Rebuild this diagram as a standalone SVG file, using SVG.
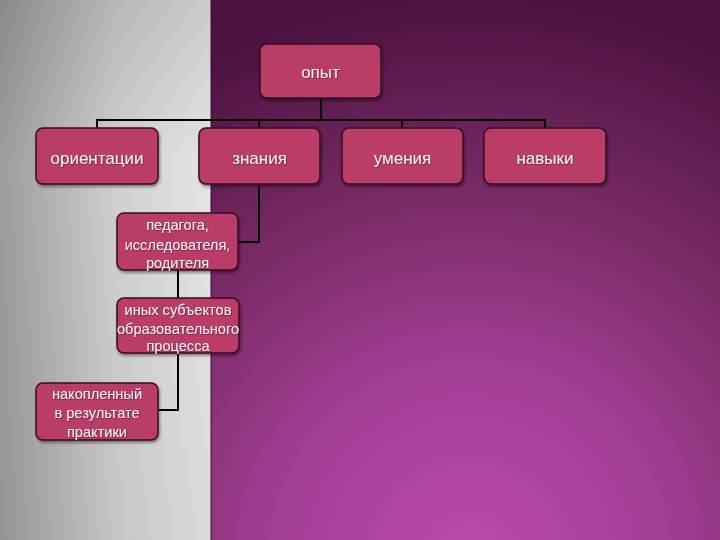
<svg xmlns="http://www.w3.org/2000/svg" width="720" height="540" viewBox="0 0 720 540">
<defs>
<linearGradient id="gray" x1="0" y1="0" x2="1" y2="0">
<stop offset="0" stop-color="#9c9c9c"/>
<stop offset="0.55" stop-color="#d0d0d0"/>
<stop offset="1" stop-color="#e6e6e6"/>
</linearGradient>
<linearGradient id="grayV" x1="0" y1="0" x2="0" y2="1">
<stop offset="0" stop-color="#000" stop-opacity="0.12"/>
<stop offset="0.3" stop-color="#000" stop-opacity="0"/>
<stop offset="1" stop-color="#000" stop-opacity="0.05"/>
</linearGradient>
<radialGradient id="purple" cx="470" cy="560" r="560" gradientUnits="userSpaceOnUse">
<stop offset="0" stop-color="#bc4aae"/>
<stop offset="0.35" stop-color="#a23e94"/>
<stop offset="0.7" stop-color="#73285f"/>
<stop offset="1" stop-color="#4c1242"/>
</radialGradient>
<filter id="sh" x="-10%" y="-10%" width="130%" height="130%">
<feDropShadow dx="1" dy="2" stdDeviation="1.5" flood-color="#000" flood-opacity="0.45"/>
</filter>
<filter id="tsh" x="-10%" y="-20%" width="120%" height="150%">
<feDropShadow dx="0.6" dy="0.6" stdDeviation="0.4" flood-color="#4a0c28" flood-opacity="0.8"/>
</filter>
</defs>
<style>
.box{fill:#b93c66;stroke:#3a0c22;stroke-width:1.5;filter:url(#sh)}
.t{font-family:"Liberation Sans",Arial,sans-serif;fill:#f6eef2;text-anchor:middle;filter:url(#tsh)}
.big{font-size:17px}
.sm{font-size:14.6px}
.c{fill:none;stroke:#000;stroke-width:2}
</style>
<rect x="0" y="0" width="720" height="540" fill="url(#purple)"/>
<rect x="0" y="0" width="211" height="540" fill="url(#gray)"/>
<rect x="0" y="0" width="211" height="540" fill="url(#grayV)"/>
<line x1="211" y1="0" x2="211" y2="540" stroke="#3a0c30" stroke-width="1"/>
<g id="connectors">
<polyline class="c" points="321,98 321,120"/>
<polyline class="c" points="97,128 97,120 545,120 545,128"/>
<line class="c" x1="259" y1="120" x2="259" y2="128"/>
<line class="c" x1="402" y1="120" x2="402" y2="128"/>
<polyline class="c" points="259,184 259,242 238,242"/>
<line class="c" x1="178" y1="270" x2="178" y2="298"/>
<polyline class="c" points="178,353 178,410 159,410"/>
</g>
<g id="n-opyt">
<rect class="box" x="260" y="44" width="121" height="54" rx="7"/>
<text class="t big" x="320.5" y="78">опыт</text>
</g>
<g id="n-orient">
<rect class="box" x="36" y="128" width="122" height="56" rx="7"/>
<text class="t big" x="97" y="164">ориентации</text>
</g>
<g id="n-znania">
<rect class="box" x="199" y="128" width="121" height="56" rx="7"/>
<text class="t big" x="259.5" y="164">знания</text>
</g>
<g id="n-umenia">
<rect class="box" x="342" y="128" width="121" height="56" rx="7"/>
<text class="t big" x="402.5" y="164">умения</text>
</g>
<g id="n-navyki">
<rect class="box" x="484" y="128" width="122" height="56" rx="7"/>
<text class="t big" x="545" y="164">навыки</text>
</g>
<g id="n-pedagoga">
<rect class="box" x="117" y="213" width="121" height="57" rx="7"/>
<text class="t sm" x="177.5" y="230">педагога,</text>
<text class="t sm" x="177.5" y="249.5">исследователя,</text>
<text class="t sm" x="177.5" y="268">родителя</text>
</g>
<g id="n-inyh">
<rect class="box" x="117" y="298" width="122" height="55" rx="7"/>
<text class="t sm" x="178" y="315">иных субъектов</text>
<text class="t sm" x="178" y="334">образовательного</text>
<text class="t sm" x="178" y="351">процесса</text>
</g>
<g id="n-nakopl">
<rect class="box" x="36" y="383" width="122" height="57" rx="7"/>
<text class="t sm" x="97" y="399">накопленный</text>
<text class="t sm" x="97" y="418">в результате</text>
<text class="t sm" x="97" y="437">практики</text>
</g>
</svg>
